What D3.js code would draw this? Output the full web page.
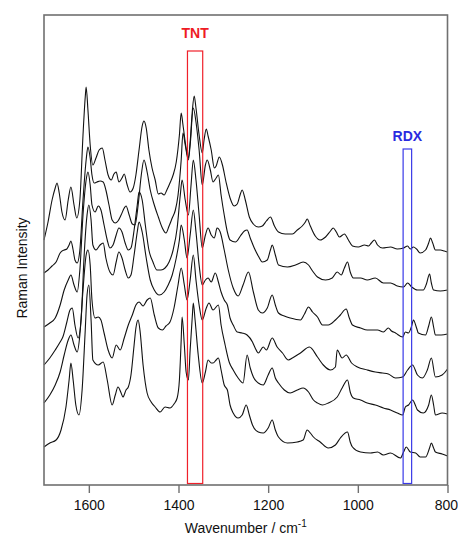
<!DOCTYPE html>
<html><head><meta charset="utf-8">
<script src="https://cdn.jsdelivr.net/npm/d3@7"></script>
<style>body{margin:0;background:#fff}svg{display:block}text{font-family:"Liberation Sans",Arial,Helvetica,sans-serif}</style>
</head><body>
<svg id="c" width="458" height="536"></svg>
<script>
// Spectra: [wavenumber (cm^-1), Raman intensity (a.u., offset-stacked)]
const spectrum1 = [[1700,245],[1691,263],[1682,285],[1675,297],[1671,302],[1666,292],[1660,273],[1653,265],[1646,285],[1640,298],[1633,280],[1627,267],[1620,285],[1613,350],[1608,388],[1606,398],[1602,375],[1597,340],[1591,320],[1584,327],[1577,335],[1570,337],[1564,325],[1557,310],[1550,305],[1544,311],[1539,313],[1533,303],[1526,307],[1521,311],[1515,301],[1508,293],[1501,297],[1495,310],[1488,335],[1481,359],[1477,364],[1472,357],[1466,335],[1459,317],[1452,305],[1445,291],[1439,292],[1432,290],[1426,295],[1419,302],[1412,310],[1405,323],[1398,350],[1394,372],[1390,360],[1383,337],[1378,327],[1374,343],[1369,375],[1365,389],[1361,377],[1354,350],[1347,332],[1343,345],[1338,356],[1334,349],[1327,335],[1320,317],[1316,319],[1309,328],[1302,320],[1294,303],[1285,287],[1276,279],[1269,281],[1262,291],[1258,295],[1251,285],[1242,268],[1233,261],[1222,258],[1213,259],[1204,264],[1195,268],[1186,259],[1177,253],[1162,251],[1146,251],[1135,255],[1124,259],[1117,263],[1113,266],[1106,259],[1095,249],[1084,245],[1072,248],[1061,254],[1055,257],[1048,253],[1041,248],[1030,251],[1021,245],[1012,239],[999,238],[985,240],[976,239],[970,242],[963,245],[956,240],[945,237],[927,238],[912,236],[898,237],[889,239],[883,236],[876,238],[869,236],[861,232],[849,235],[842,242],[838,247],[833,242],[827,235],[816,235],[807,234],[800,233]];
const spectrum2 = [[1700,212],[1691,215],[1682,219],[1673,223],[1664,232],[1655,235],[1649,236],[1644,240],[1640,244],[1635,235],[1631,225],[1626,222],[1620,235],[1613,285],[1606,325],[1602,338],[1597,327],[1593,310],[1588,302],[1582,303],[1575,304],[1568,303],[1562,295],[1555,280],[1548,265],[1541,262],[1535,264],[1528,270],[1521,277],[1517,279],[1510,270],[1503,261],[1497,260],[1490,280],[1483,310],[1477,325],[1470,313],[1463,295],[1454,280],[1445,268],[1436,257],[1428,252],[1421,259],[1414,267],[1407,275],[1401,290],[1394,325],[1390,352],[1385,340],[1378,325],[1374,340],[1367,377],[1361,363],[1354,335],[1347,300],[1340,320],[1336,325],[1329,315],[1323,303],[1316,307],[1311,310],[1305,290],[1298,270],[1291,253],[1285,245],[1273,243],[1262,249],[1253,254],[1247,255],[1240,247],[1231,237],[1222,229],[1213,223],[1202,225],[1195,235],[1191,240],[1184,230],[1177,220],[1157,218],[1139,220],[1122,223],[1110,220],[1101,214],[1090,208],[1072,205],[1057,207],[1046,213],[1037,210],[1030,217],[1023,223],[1017,213],[1010,207],[994,207],[979,205],[961,207],[943,202],[927,202],[912,199],[898,198],[889,202],[880,198],[867,195],[854,195],[847,201],[840,211],[836,202],[831,195],[816,194],[800,195]];
const spectrum3 = [[1700,158],[1687,162],[1675,167],[1664,180],[1655,195],[1646,205],[1640,210],[1633,200],[1626,193],[1620,215],[1613,270],[1606,305],[1602,313],[1597,300],[1593,280],[1586,273],[1579,279],[1573,275],[1566,260],[1559,245],[1553,237],[1546,240],[1539,250],[1533,257],[1526,253],[1519,242],[1512,235],[1506,237],[1499,255],[1492,280],[1488,293],[1481,285],[1474,260],[1466,235],[1457,223],[1448,215],[1439,215],[1430,217],[1421,223],[1412,235],[1403,257],[1396,290],[1392,305],[1385,285],[1378,270],[1372,300],[1367,325],[1361,305],[1354,270],[1347,237],[1340,250],[1334,257],[1327,250],[1320,247],[1314,257],[1307,253],[1298,235],[1289,215],[1278,197],[1267,189],[1256,200],[1244,213],[1233,193],[1222,175],[1213,172],[1202,177],[1191,190],[1184,180],[1177,172],[1164,169],[1151,167],[1128,165],[1119,171],[1110,178],[1101,173],[1090,168],[1079,160],[1066,160],[1050,165],[1039,170],[1026,176],[1019,167],[1012,160],[994,157],[979,155],[956,155],[943,153],[932,157],[925,154],[916,152],[900,148],[894,153],[887,152],[880,159],[876,165],[869,157],[865,152],[849,150],[842,159],[836,168],[831,158],[827,150],[814,150],[800,151]];
const spectrum4 = [[1700,120],[1687,127],[1675,135],[1664,143],[1658,148],[1649,163],[1642,175],[1637,177],[1631,160],[1624,147],[1617,167],[1611,225],[1604,270],[1600,280],[1595,265],[1591,240],[1584,235],[1575,240],[1568,242],[1562,227],[1553,213],[1546,210],[1539,223],[1533,233],[1526,227],[1519,215],[1512,207],[1506,210],[1499,230],[1492,253],[1488,263],[1481,253],[1472,227],[1463,205],[1454,195],[1443,190],[1432,193],[1423,200],[1414,210],[1405,227],[1398,245],[1394,260],[1387,245],[1381,227],[1374,250],[1367,275],[1361,253],[1354,220],[1347,200],[1340,205],[1334,207],[1327,203],[1318,212],[1311,203],[1305,193],[1298,185],[1291,180],[1285,167],[1278,160],[1269,153],[1258,152],[1247,150],[1235,143],[1229,137],[1222,132],[1211,138],[1204,135],[1191,147],[1180,138],[1168,132],[1155,125],[1146,127],[1128,132],[1108,138],[1090,128],[1077,120],[1061,115],[1050,118],[1046,135],[1035,127],[1026,130],[1014,122],[1001,118],[979,115],[961,113],[945,112],[932,111],[916,107],[900,108],[889,115],[878,120],[867,110],[856,107],[845,115],[836,127],[827,108],[812,110],[800,116]];
const spectrum5 = [[1700,82],[1687,90],[1675,100],[1664,113],[1655,130],[1646,145],[1640,150],[1633,140],[1626,133],[1620,150],[1613,195],[1606,230],[1602,235],[1597,220],[1593,185],[1586,167],[1579,168],[1573,165],[1566,152],[1557,135],[1548,127],[1539,140],[1530,135],[1521,147],[1512,160],[1503,170],[1495,180],[1488,183],[1479,179],[1470,185],[1463,187],[1454,170],[1445,157],[1436,155],[1428,159],[1419,163],[1410,177],[1401,200],[1394,217],[1387,200],[1381,185],[1374,205],[1367,230],[1361,205],[1354,180],[1347,165],[1338,177],[1332,182],[1323,175],[1311,180],[1305,160],[1296,140],[1287,123],[1278,115],[1267,107],[1256,102],[1247,130],[1240,117],[1233,108],[1222,102],[1211,100],[1200,110],[1191,117],[1184,107],[1177,102],[1164,95],[1151,92],[1135,95],[1122,97],[1110,93],[1099,85],[1090,82],[1079,80],[1066,82],[1046,88],[1035,97],[1023,105],[1017,93],[1010,87],[994,85],[979,82],[961,80],[943,77],[927,75],[912,72],[900,70],[894,78],[887,80],[878,85],[871,79],[867,75],[854,72],[842,80],[836,90],[831,80],[827,70],[812,72],[800,71]];
const spectrum6 = [[1700,38],[1687,42],[1673,45],[1662,55],[1651,78],[1644,105],[1640,122],[1635,105],[1629,80],[1622,70],[1615,95],[1608,155],[1604,190],[1600,200],[1595,165],[1591,125],[1579,120],[1568,123],[1559,105],[1548,80],[1541,90],[1535,98],[1528,92],[1524,88],[1517,95],[1512,98],[1506,110],[1499,140],[1495,157],[1490,165],[1486,155],[1479,120],[1470,92],[1461,83],[1452,78],[1441,73],[1430,78],[1419,77],[1410,81],[1403,87],[1398,105],[1394,145],[1392,168],[1387,140],[1383,113],[1378,105],[1374,135],[1369,170],[1367,182],[1363,165],[1356,130],[1347,102],[1340,113],[1334,125],[1327,122],[1323,122],[1316,125],[1311,127],[1305,115],[1298,100],[1291,95],[1285,80],[1278,72],[1267,67],[1258,70],[1249,80],[1242,70],[1235,60],[1222,53],[1211,52],[1200,57],[1191,65],[1184,55],[1177,48],[1157,42],[1135,43],[1122,45],[1113,55],[1106,52],[1099,48],[1084,43],[1066,37],[1050,40],[1039,47],[1023,53],[1017,43],[1012,38],[994,33],[972,32],[956,33],[943,30],[927,32],[905,27],[898,33],[892,38],[883,33],[871,32],[861,28],[849,28],[840,37],[836,42],[831,37],[827,33],[812,31],[800,29]];
const spectra = [spectrum1, spectrum2, spectrum3, spectrum4, spectrum5, spectrum6];

const xTicks = [1600, 1400, 1200, 1000, 800];
const xDomain = [1700, 800];
const yDomain = [0, 470];
const tntBand = [1380, 1346];
const rdxBand = [899, 880];
const tntLabel = "TNT", rdxLabel = "RDX";

const svg = d3.select("#c");
const L = 44, R = 447.5, T = 15, B = 485;
const x = d3.scaleLinear().domain(xDomain).range([L, R]);
const y = d3.scaleLinear().domain(yDomain).range([B, T]);

const line = d3.line().x(d => x(d[0])).y(d => y(d[1])).curve(d3.curveMonotoneX);
svg.append("g").selectAll("path").data(spectra).join("path")
  .attr("d", line).attr("fill", "none").attr("stroke", "#111").attr("stroke-width", 1.1)
  .attr("stroke-linejoin", "round");

// highlight boxes
svg.append("rect").attr("x", x(tntBand[0])).attr("width", x(tntBand[1]) - x(tntBand[0]))
  .attr("y", 51).attr("height", B - 1.5 - 51).attr("fill", "none").attr("stroke", "#f0202a").attr("stroke-width", 1.2);
svg.append("rect").attr("x", x(rdxBand[0])).attr("width", x(rdxBand[1]) - x(rdxBand[0]))
  .attr("y", 149).attr("height", B - 1.5 - 149).attr("fill", "none").attr("stroke", "#3a3ae8").attr("stroke-width", 1.2);
svg.append("text").attr("x", (x(tntBand[0]) + x(tntBand[1])) / 2).attr("y", 38).attr("text-anchor", "middle")
  .attr("font-weight", "bold").attr("font-size", 14).attr("fill", "#ee1c24").text(tntLabel);
svg.append("text").attr("x", (x(rdxBand[0]) + x(rdxBand[1])) / 2).attr("y", 141).attr("text-anchor", "middle")
  .attr("font-weight", "bold").attr("font-size", 14).attr("fill", "#2a2ae0").text(rdxLabel);

// frame
svg.append("rect").attr("x", L).attr("y", T).attr("width", R - L).attr("height", B - T)
  .attr("fill", "none").attr("stroke", "#707070").attr("stroke-width", 1.6);

// x axis
const ax = svg.append("g").attr("transform", `translate(0,${B})`)
  .call(d3.axisBottom(x).tickValues(xTicks).tickSize(8).tickPadding(7).tickFormat(d3.format("d")));
ax.select(".domain").remove();
ax.selectAll("line").attr("stroke", "#707070").attr("stroke-width", 1.4);
ax.selectAll("text").attr("font-size", 14).attr("fill", "#111").style("font-family", '"Liberation Sans",Arial,sans-serif');
// keep the right-most label inside the canvas
ax.selectAll(".tick").filter(d => d === xDomain[1]).select("text").attr("text-anchor", "end").attr("dx", 10);

const xt = svg.append("text").attr("x", (L + R) / 2).attr("y", 533).attr("text-anchor", "middle")
  .attr("font-size", 14).attr("fill", "#111");
xt.append("tspan").text("Wavenumber / cm");
xt.append("tspan").attr("font-size", 10).attr("dy", -6).text("-1");

svg.append("text").attr("transform", `translate(27,${(T + B) / 2 + 18}) rotate(-90)`)
  .attr("text-anchor", "middle").attr("font-size", 14).attr("fill", "#111").text("Raman Intensity");
</script>
</body></html>
